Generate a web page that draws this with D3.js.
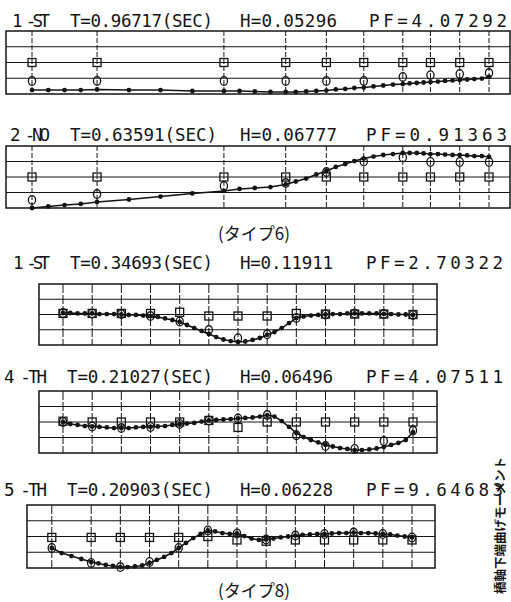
<!DOCTYPE html>
<html>
<head>
<meta charset="utf-8">
<script src="https://cdn.jsdelivr.net/npm/d3@7"></script>
<style>
  body { margin: 0; background: #fff; }
</style>
</head>
<body>
<div id="chart"></div>
<script>
// Titles (label, period, damping, participation)
const titles = [
  ["1 -ST", "T=0.96717(SEC)", "H=0.05296", "PF=4.07292"],
  ["2 -NO", "T=0.63591(SEC)", "H=0.06777", "PF=0.91363"],
  ["1 -ST", "T=0.34693(SEC)", "H=0.11911", "PF=2.70322"],
  ["4 -TH", "T=0.21027(SEC)", "H=0.06496", "PF=4.07511"],
  ["5 -TH", "T=0.20903(SEC)", "H=0.06228", "PF=9.64683"]
];
const captions = ["(タイプ6)", "(タイプ8)"];
const sideLabel = "橋軸下端曲げモーメント";

// Type 6: node stations and sub-element stations
const nodesA = [0, 20, 59, 78, 90.5, 102, 114, 122.5, 131.5, 140.5];
const stationsA = [0, 5, 10, 15, 20, 29.8, 39.5, 49.3, 59, 63.8, 68.5, 73.3, 78, 81.1, 84.3, 87.4,
  90.5, 93.4, 96.3, 99.1, 102, 105, 108, 111, 114, 116.1, 118.3, 120.4, 122.5, 124.8, 127, 129.3,
  131.5, 133.8, 136, 138.3, 140.5];

const p1Dots = [-1.75, -1.75, -1.75, -1.75, -1.71, -1.75, -1.75, -1.81, -1.81, -1.81, -1.84, -1.87,
  -1.87, -1.87, -1.84, -1.81, -1.78, -1.71, -1.68, -1.62, -1.59, -1.52, -1.46, -1.40, -1.37, -1.33,
  -1.30, -1.27, -1.24, -1.21, -1.17, -1.14, -1.11, -1.08, -1.05, -1.02, -0.92];
const p1Squares = [0, 0, 0, 0, 0, 0, 0, 0, 0, 0];
const p1Circles = [-1.17, -1.17, -1.17, -1.17, -1.17, -1.17, -0.92, -0.8, -0.73, -0.67];

const p2Dots = [-2.0, -1.9, -1.81, -1.74, -1.61, -1.45, -1.26, -1.06, -0.9, -0.77, -0.71, -0.65,
  -0.48, -0.29, -0.1, 0.16, 0.39, 0.65, 0.84, 1.03, 1.19, 1.32, 1.42, 1.48, 1.55, 1.55, 1.55, 1.52,
  1.48, 1.48, 1.45, 1.42, 1.42, 1.39, 1.35, 1.35, 1.29];
const p2Squares = [0, 0, 0, 0, 0, 0, 0, 0, 0, 0];
const p2Circles = [-1.48, -1.1, -0.58, -0.39, 0.32, 1.0, 1.26, 0.97, 0.97, 0.97];

// Type 8: uniform element stations
const nodesB = [0, 4, 8, 12, 16, 20, 24, 28, 32, 36, 40, 44, 48];
const stationsB = d3.range(49);
// mode 5 plot has a longer first element
const nodesC = [-1.4, 4, 8, 12, 16, 20, 24, 28, 32, 36, 40, 44, 48];
const stationsC = [-1.4, -0.05, 1.3, 2.65, 4].concat(d3.range(5, 49));

const p3Dots = [0.1, 0.1, 0.07, 0.07, 0.07, 0.03, 0.03, 0.03, 0, -0.03, -0.03, -0.07, -0.1, -0.16,
  -0.26, -0.36, -0.49, -0.69, -0.89, -1.08, -1.28, -1.48, -1.64, -1.74, -1.8, -1.77, -1.67, -1.54,
  -1.34, -1.15, -0.89, -0.56, -0.23, -0.13, -0.07, -0.03, 0, 0.03, 0.03, 0.07, 0.07, 0.07, 0.07,
  0.07, 0.03, 0.03, 0, 0, -0.03];
const p3Squares = [0.07, 0.07, 0.07, 0.07, 0.15, -0.1, -0.1, -0.1, 0.07, 0.03, 0.03, 0.03, 0];
const p3Circles = [0.1, 0.07, 0.03, -0.1, -0.46, -1.02, -1.55, -1.3, -0.23, 0, 0.07, 0.03, -0.03];

const p4Dots = [0, -0.13, -0.19, -0.26, -0.29, -0.32, -0.35, -0.39, -0.39, -0.39, -0.35, -0.32,
  -0.32, -0.29, -0.26, -0.19, -0.13, -0.1, -0.06, 0.03, 0.1, 0.13, 0.16, 0.19, 0.23, 0.26, 0.29,
  0.35, 0.45, 0.35, 0.06, -0.32, -0.71, -0.97, -1.16, -1.32, -1.48, -1.58, -1.68, -1.74, -1.81,
  -1.81, -1.77, -1.71, -1.61, -1.48, -1.35, -1.16, -0.65];
const p4Squares = [0.05, 0, 0, 0, 0, 0.1, -0.35, 0, 0, 0, 0, 0, 0];
const p4Circles = [0, -0.29, -0.39, -0.32, -0.13, 0.1, 0.23, 0.45, -0.85, -1.55, -1.74, -1.23, -0.55];

const p5Dots = [-0.73, -1.05, -1.24, -1.43, -1.62, -1.71, -1.81, -1.87, -1.94, -1.94, -1.9, -1.84,
  -1.68, -1.49, -1.3, -1.05, -0.73, -0.41, -0.1, 0.16, 0.38, 0.32, 0.22, 0.16, 0.19, 0.03, -0.13,
  -0.22, -0.19, -0.13, -0.06, 0, 0.06, 0.1, 0.13, 0.16, 0.16, 0.19, 0.22, 0.22, 0.25, 0.22, 0.22,
  0.19, 0.16, 0.13, 0.06, 0, -0.06];
const p5Squares = [-0.06, -0.06, -0.06, -0.06, -0.06, 0, -0.22, -0.3, -0.22, -0.22, -0.22, -0.22, -0.22];
const p5Circles = [-0.73, -1.68, -1.94, -1.62, -0.73, 0.38, 0.19, -0.19, 0.06, 0.16, 0.25, 0.16, -0.06];

const width = 511, height = 602;
const ink = "#141414";

const svg = d3.select("#chart").append("svg")
  .attr("width", width)
  .attr("height", height)
  .style("display", "block");

// Panel frames: box edges, x domain -> range, title baseline and title piece spans
const layout = [
  { box: [6, 510, 31, 94], dom: [0, 140.5], grid: [32, 489], ty: 27, dash: "5,2",
    spans: [[12, 50], [70, 213], [240, 337], [369, 507]] },
  { box: [6, 510, 146, 208], dom: [0, 140.5], grid: [32, 489], ty: 141, dash: "5,2",
    spans: [[10, 50], [70, 217], [240, 337], [366, 507]] },
  { box: [39, 437, 284, 345], dom: [0, 48], grid: [63, 413], ty: 269, dash: "9,2",
    spans: [[13, 50], [70, 213], [240, 333], [366, 503]] },
  { box: [39, 437, 391, 453], dom: [0, 48], grid: [63, 413], ty: 383, dash: "9,2",
    spans: [[4, 47], [67, 213], [240, 333], [366, 503]] },
  { box: [27, 435, 505, 568], dom: [0, 48], grid: [62, 412], ty: 496, dash: "9,2",
    spans: [[4, 47], [67, 213], [240, 333], [366, 503]] }
];

const series = [
  [nodesA, stationsA, p1Dots, p1Squares, p1Circles],
  [nodesA, stationsA, p2Dots, p2Squares, p2Circles],
  [nodesB, stationsB, p3Dots, p3Squares, p3Circles],
  [nodesB, stationsB, p4Dots, p4Squares, p4Circles],
  [nodesC, stationsC, p5Dots, p5Squares, p5Circles]
];

series.forEach(([nodes, stations, dots, squares, circles], i) => {
  const L = layout[i];
  const [bx0, bx1, by0, by1] = L.box;
  const x = d3.scaleLinear()
    .domain(L.dom)
    .range(L.grid);
  const y = d3.scaleLinear()
    .domain([-2, 2])
    .range([by1, by0]);

  const g = svg.append("g");

  // title pieces
  titles[i].forEach((t, k) => {
    g.append("text")
      .attr("x", L.spans[k][0])
      .attr("y", L.ty)
      .attr("textLength", L.spans[k][1] - L.spans[k][0])
      .attr("lengthAdjust", "spacing")
      .attr("font-family", "DejaVu Sans Mono")
      .attr("font-size", 17.5)
      .attr("fill", ink)
      .style("white-space", "pre")
      .text(t);
  });

  // horizontal grid
  g.selectAll(".hg").data([-1, 0, 1]).join("line")
    .attr("x1", bx0).attr("x2", bx1)
    .attr("y1", d => y(d)).attr("y2", d => y(d))
    .attr("stroke", ink).attr("stroke-width", 1);

  // vertical grid at nodes
  g.selectAll(".vg").data(nodes).join("line")
    .attr("x1", d => x(d)).attr("x2", d => x(d))
    .attr("y1", by0).attr("y2", by1)
    .attr("stroke", ink).attr("stroke-width", 1)
    .attr("stroke-dasharray", L.dash);

  // frame
  g.append("rect")
    .attr("x", bx0).attr("y", by0)
    .attr("width", bx1 - bx0).attr("height", by1 - by0)
    .attr("fill", "none")
    .attr("stroke", ink).attr("stroke-width", 1.5);

  // continuous response line with dots
  const line = d3.line()
    .x((d, j) => x(stations[j]))
    .y(d => y(d));

  g.append("path")
    .datum(dots)
    .attr("fill", "none")
    .attr("stroke", ink)
    .attr("stroke-width", 1.6)
    .attr("d", line);

  g.selectAll(".dot").data(dots).join("circle")
    .attr("cx", (d, j) => x(stations[j]))
    .attr("cy", d => y(d))
    .attr("r", 2.4)
    .attr("fill", ink);

  // square markers
  g.selectAll(".sq").data(squares).join("rect")
    .attr("x", (d, j) => x(nodes[j]) - 4)
    .attr("y", d => y(d) - 4)
    .attr("width", 8).attr("height", 8)
    .attr("fill", "none")
    .attr("stroke", ink).attr("stroke-width", 1.3);

  // circle markers
  g.selectAll(".ci").data(circles).join("ellipse")
    .attr("cx", (d, j) => x(nodes[j]))
    .attr("cy", d => y(d))
    .attr("rx", 3.6).attr("ry", 4.3)
    .attr("fill", "none")
    .attr("stroke", ink).attr("stroke-width", 1.3);
});

// captions
svg.selectAll(".cap").data(captions).join("text")
  .attr("x", 254)
  .attr("y", (d, i) => [240, 597][i])
  .attr("text-anchor", "middle")
  .attr("font-family", "Noto Sans CJK JP")
  .attr("font-size", 17)
  .attr("fill", ink)
  .text(d => d);

// rotated side label
svg.append("text")
  .attr("transform", "translate(505,594) rotate(-90)")
  .attr("font-family", "Noto Sans CJK JP")
  .attr("font-weight", "bold")
  .attr("font-size", 12.5)
  .attr("fill", ink)
  .text(sideLabel);
</script>
</body>
</html>
